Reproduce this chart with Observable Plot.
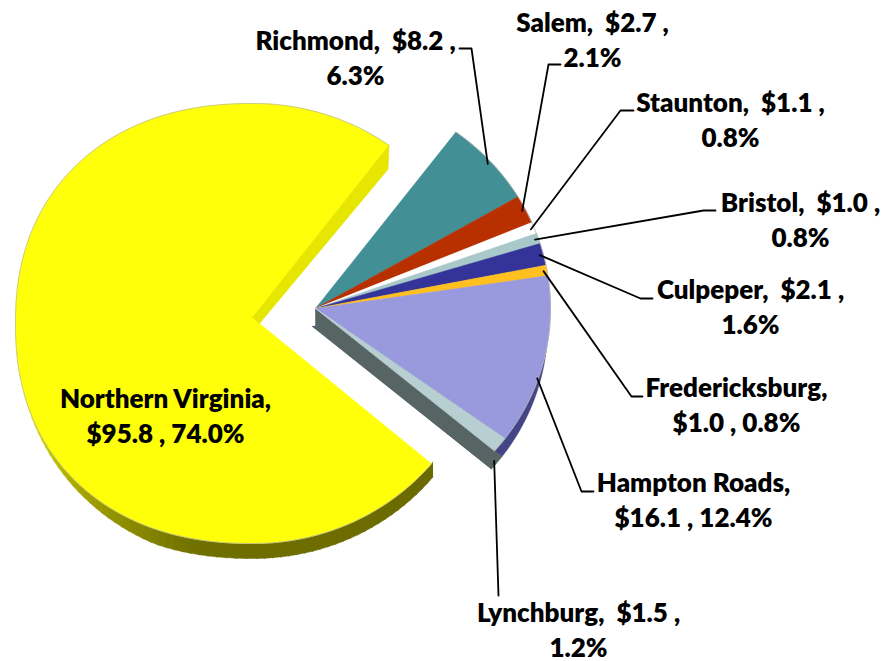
<!DOCTYPE html>
<html><head><meta charset="utf-8">
<style>html,body{margin:0;padding:0;background:#fff}svg{display:block}</style>
<script src="https://cdn.jsdelivr.net/npm/d3@7"></script>
<script src="https://cdn.jsdelivr.net/npm/@observablehq/plot@0.6"></script>
</head><body><div id="chart"></div>
<script>
// Data (clockwise from the top of the exploded group)
const regions = ["Richmond","Salem","Staunton","Bristol","Culpeper","Fredericksburg","Hampton Roads","Lynchburg","Northern Virginia"];
const amounts = [8.2,2.7,1.1,1.0,2.1,1.0,16.1,1.5,95.8];
const shares  = ["6.3%","2.1%","0.8%","0.8%","1.6%","0.8%","12.4%","1.2%","74.0%"];
const wrapAfterName = ["Fredericksburg","Hampton Roads","Northern Virginia"];

// Styles
const topColors  = ["#428F96","#B83000","#FFFFFF","#A8C8CA","#333399","#FFC020","#9999DD","#B8CFD2","#FFFF0A"];
const sideColors = ["#2c6065","#7a2000","#bbbbbb","#708a8c","#22226a","#b08010","#454585","#566464","#8a8a00"];

// Layout of the label anchors and leader elbows
const labelX = [355,592,730,800,750,736,693,578,165];
const labelY = [56,38,118,218,305,403,498,628,414];
const elbowX = [471,548,620,703,640,631,581,498];
const elbowY = [48,64,110,210,298,396,491,595];
const tailX  = [459,560,633,715,652,642,593,498];

// Pie geometry
const total = d3.sum(amounts);
const sweep = v => v / total * 360;
const rad = d => d * Math.PI / 180;
const group = {cx:315, cy:308, rx:235, ry:220, start:36.7, dx:-3, dy:18};
const main  = {cx:253, cy:323, rx:231, rxLeft:238, ry:220, start:129.6, dy:15, power:0.9};
const rim = (p, a, k = 1) => {
  const s = Math.sin(rad(a)), c = Math.cos(rad(a));
  // The far-left side of the large slice bulges slightly more than an ellipse
  if (p.power && s < 0) {
    return {x:p.cx - k*p.rxLeft*Math.pow(-s,p.power), y:p.cy - k*p.ry*Math.sign(c)*Math.pow(Math.abs(c),p.power)};
  }
  return {x:p.cx + k*p.rx*s, y:p.cy - k*p.ry*c};
};
const arcPts = (p, a0, a1) => {
  const n = Math.max(2, Math.ceil(Math.abs(a1-a0)));
  return d3.range(n+1).map(i => rim(p, a0 + (a1-a0)*i/n));
};
const shift = (pts, dx, dy) => pts.map(q => ({x:q.x+dx, y:q.y+dy}));

// Angles of the slices in the exploded group
let acc = group.start;
const slices = regions.slice(0,8).map((name,i) => {
  const a0 = acc, a1 = acc + sweep(amounts[i]); acc = a1;
  return {name, i, a0, a1, mid:(a0+a1)/2};
});
const apex = {x:group.cx, y:group.cy};
const wedges = slices.map(s => [apex, ...arcPts(group, s.a0, s.a1), apex]);

// Northern Virginia
const mainA0 = main.start, mainA1 = main.start + sweep(amounts[8]);
const mainArc = arcPts(main, mainA0, mainA1);
const tipTop = {x:main.cx-1, y:main.cy-6};
const tipLow = {x:main.cx+6, y:main.cy};
const mainTop = [tipLow, ...mainArc, tipTop, tipLow];
const endPt = mainArc[mainArc.length-1];
const mainWall = [endPt, {x:endPt.x-1,y:endPt.y+24}, tipLow, tipTop, endPt];

// Outer wall of Northern Virginia, as strips shaded along the arc
const shade = d3.scaleLinear().domain([129.6,190,222,252]).range(["#6a6a00","#6f6f00","#a2a200","#e4e400"]);
const wallDepth = a => main.dy * Math.min(1, Math.max(0, (252 - a) / 50));
const strips = [];
d3.range(Math.floor(mainA0), 252, 2).forEach((a,i) => {
  const p = rim(main,a), q = rim(main,a+2.4), color = shade(a);
  [p,q,{x:q.x,y:q.y+wallDepth(a+2.4)},{x:p.x,y:p.y+wallDepth(a)}].forEach(t => strips.push({...t,id:i,color}));
});

// Walls of the exploded group
const lastEnd = rim(group, slices[7].a1);
const cutWall = [apex, {x:apex.x,y:apex.y+20}, {x:lastEnd.x+group.dx,y:lastEnd.y+group.dy}, lastEnd, apex];
const rimPts = arcPts(group, slices[0].a0, slices[7].a1);

// Leaders
const leaders = slices.flatMap(s => {
  const base = rim(group, s.mid, 0.985);
  const low = s.mid > 90;
  const start = low ? {x:base.x+group.dx, y:base.y+group.dy} : base;
  return [start, {x:elbowX[s.i],y:elbowY[s.i]}, {x:tailX[s.i],y:elbowY[s.i]}].map(p => ({...p,id:s.name}));
});

const labelText = regions.map((r,i) => wrapAfterName.includes(r)
  ? `${r},\n$${amounts[i].toFixed(1)} , ${shares[i]}`
  : `${r},\u00A0\u00A0$${amounts[i].toFixed(1)} ,\n${shares[i]}`);
const labels = regions.map((r,i) => ({x:labelX[i], y:labelY[i], text:labelText[i]}));

const poly = (pts, fill, extra={}) => Plot.line(pts, {x:"x", y:"y", fill, stroke:fill, strokeWidth:0.6, ...extra});

const chart = Plot.plot({
  width:882, height:661, margin:0,
  x:{domain:[0,882], range:[0,882], axis:null},
  y:{domain:[0,661], range:[0,661], axis:null},
  color:{type:"identity"},
  style:{background:"#fff"},
  marks:[
    // Northern Virginia
    Plot.line(strips, {x:"x", y:"y", z:"id", fill:"color", stroke:"color", strokeWidth:0.5}),
    poly(mainTop, topColors[8]),
    poly(mainWall, "#E6E600"),
    Plot.line(mainArc, {x:"x", y:"y", stroke:"#bdbd9a", strokeWidth:0.8}),
    // Exploded group: side walls first, then top faces
    poly(shift(wedges[6], group.dx, group.dy), sideColors[6]),
    poly(shift(wedges[7], group.dx, group.dy), sideColors[7]),
    poly(cutWall, sideColors[7]),
    ...wedges.map((w,i) => poly(w, topColors[i])),
    Plot.line(rimPts, {x:"x", y:"y", stroke:"#b5b5b5", strokeWidth:0.8}),
    // Leaders and labels
    Plot.line(leaders, {x:"x", y:"y", z:"id", stroke:"#000", strokeWidth:1.8}),
    Plot.text(labels, {x:"x", y:"y", text:"text", fontFamily:"Lato", fontWeight:800, fontSize:26, lineHeight:1.33, fill:"#000", textAnchor:"middle"})
  ]
});
document.getElementById("chart").appendChild(chart);
</script></body></html>
